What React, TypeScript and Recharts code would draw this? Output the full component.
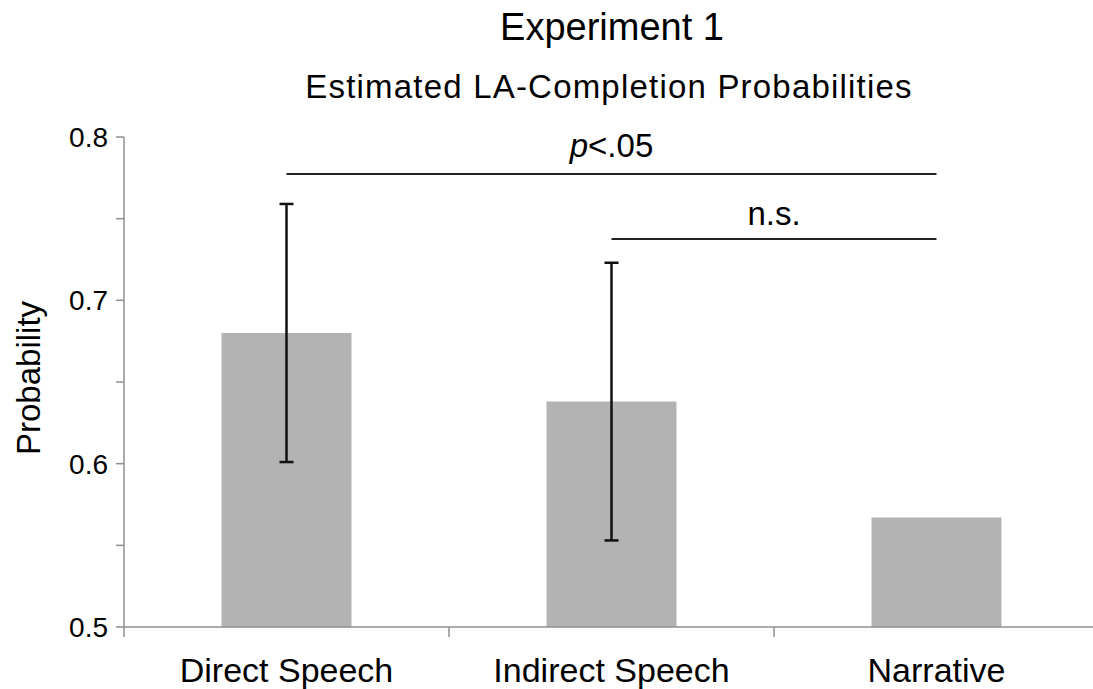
import { Bar, BarChart, ErrorBar, ReferenceLine, XAxis, YAxis } from "recharts";

const categories = ["Direct Speech", "Indirect Speech", "Narrative"];
const means = [0.68, 0.638, 0.567];
const lower: (number | null)[] = [0.601, 0.553, null];
const upper: (number | null)[] = [0.759, 0.723, null];
const yTicks = [0.5, 0.55, 0.6, 0.65, 0.7, 0.75, 0.8];

// significance brackets
const brackets = [
  { from: "Direct Speech", to: "Narrative", y: 0.7773, label: "p<.05", italicP: true, gap: 17 },
  { from: "Indirect Speech", to: "Narrative", y: 0.7376, label: "n.s.", italicP: false, gap: 14 },
];

const FONT = '"Liberation Sans", Arial, Helvetica, sans-serif';
const CHART_W = 1110;
const CHART_H = 689;
const Y_AXIS_W = 124;
const X_AXIS_H = 62;
const MARGIN = { top: 137, right: 11, bottom: 0, left: 0 };
const BAND = (CHART_W - Y_AXIS_W - MARGIN.right) / categories.length;
const AXIS_COLOR = "#8f8f8f";

const data = categories.map((name, i) => ({
  name,
  value: means[i],
  err:
    lower[i] != null && upper[i] != null
      ? [means[i] - (lower[i] as number), (upper[i] as number) - means[i]]
      : undefined,
}));

const XTick = (props: any) => {
  const { x, y, payload, index } = props;
  const last = index === categories.length - 1;
  return (
    <g>
      <line x1={x - BAND / 2} x2={x - BAND / 2} y1={y} y2={y + 10} stroke={AXIS_COLOR} strokeWidth={1.5} />
      {last && (
        <line x1={x + BAND / 2} x2={x + BAND / 2} y1={y} y2={y + 10} stroke={AXIS_COLOR} strokeWidth={1.5} />
      )}
      <text x={x} y={y + 55} textAnchor="middle" fontSize={34} fontFamily={FONT} fill="#000">
        {payload.value}
      </text>
    </g>
  );
};

const bracketLabel = (b: (typeof brackets)[number]) => (props: any) => {
  const vb = props.viewBox;
  const cx = vb.x + vb.width / 2;
  return (
    <text x={cx} y={vb.y - b.gap} textAnchor="middle" fontSize={33} fontFamily={FONT} fill="#000">
      {b.italicP ? (
        <>
          <tspan fontStyle="italic">p</tspan>
          <tspan>{b.label.slice(1)}</tspan>
        </>
      ) : (
        b.label
      )}
    </text>
  );
};

export default function App() {
  return (
    <div
      style={{
        position: "absolute",
        left: 0,
        top: 0,
        width: 1093,
        height: 689,
        overflow: "hidden",
        background: "#fff",
      }}
    >
      <BarChart width={CHART_W} height={CHART_H} data={data} margin={MARGIN} barCategoryGap="30%">
        <XAxis
          dataKey="name"
          height={X_AXIS_H}
          axisLine={{ stroke: AXIS_COLOR, strokeWidth: 1.5 }}
          tickLine={false}
          tickSize={0}
          tickMargin={0}
          tick={<XTick />}
          interval={0}
        />
        <YAxis
          width={Y_AXIS_W}
          domain={[0.5, 0.8]}
          ticks={yTicks}
          interval={0}
          axisLine={{ stroke: AXIS_COLOR, strokeWidth: 1.5 }}
          tickLine={{ stroke: AXIS_COLOR, strokeWidth: 1.5 }}
          tickSize={8}
          tickMargin={8}
          tick={{ fontSize: 28, fill: "#000", fontFamily: FONT }}
          tickFormatter={(v: number) => (Math.round(v * 100) % 10 === 0 ? v.toFixed(1) : "")}
        />
        <Bar dataKey="value" fill="#b3b3b3" isAnimationActive={false}>
          <ErrorBar dataKey="err" width={7} strokeWidth={2.5} stroke="#111" direction="y" />
        </Bar>
        {brackets.map((b) => (
          <ReferenceLine
            key={b.label}
            segment={[
              { x: b.from, y: b.y },
              { x: b.to, y: b.y },
            ]}
            stroke="#222"
            strokeWidth={2}
            label={bracketLabel(b)}
          />
        ))}
      </BarChart>
      <svg
        width={1093}
        height={689}
        style={{ position: "absolute", left: 0, top: 0, pointerEvents: "none" }}
      >
        <text x={612} y={40} textAnchor="middle" fontSize={38} fontFamily={FONT} fill="#000">
          Experiment 1
        </text>
        <text
          x={609}
          y={98}
          textAnchor="middle"
          fontSize={33}
          fontFamily={FONT}
          fill="#000"
          letterSpacing={1.2}
        >
          Estimated LA-Completion Probabilities
        </text>
        <text
          x={0}
          y={0}
          transform="translate(40,378) rotate(-90)"
          textAnchor="middle"
          fontSize={33}
          fontFamily={FONT}
          fill="#000"
        >
          Probability
        </text>
      </svg>
    </div>
  );
}
